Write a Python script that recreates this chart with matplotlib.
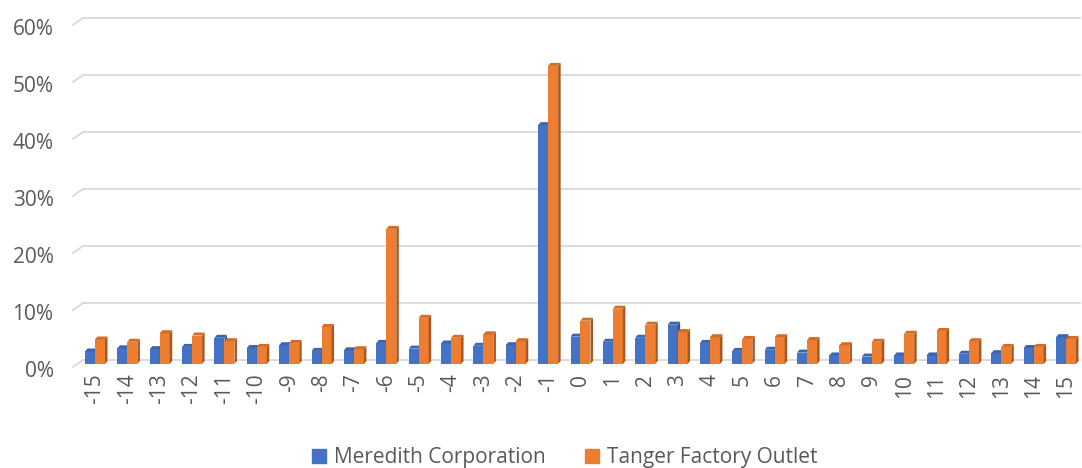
import matplotlib
matplotlib.use("Agg")
import matplotlib.pyplot as plt
from matplotlib.patches import Polygon, Rectangle
from matplotlib.transforms import ScaledTranslation
import numpy as np

categories = list(range(-15, 16))
meredith = [2.2, 2.75, 2.6, 3.0, 4.6, 2.8, 3.3, 2.3, 2.4, 3.7,
            2.7, 3.6, 3.2, 3.3, 41.9, 4.8, 3.9, 4.6, 6.9, 3.7,
            2.3, 2.5, 2.0, 1.5, 1.3, 1.5, 1.5, 1.8, 1.9, 2.8, 4.7]
tanger = [4.3, 3.9, 5.4, 5.0, 4.0, 3.0, 3.7, 6.5, 2.6, 23.7,
          8.1, 4.6, 5.2, 4.0, 52.3, 7.6, 9.7, 6.9, 5.6, 4.7,
          4.4, 4.7, 4.2, 3.3, 3.9, 5.3, 5.8, 4.0, 3.0, 3.0, 4.4]
series_names = ["Meredith Corporation", "Tanger Factory Outlet"]
yticks = [0, 10, 20, 30, 40, 50, 60]

plt.rcParams['font.family'] = ['Open Sans', 'DejaVu Sans']
TXT = '#595959'
FS = 15
W, H = 1082, 468
fig = plt.figure(figsize=(W / 100, H / 100), dpi=100)

ax_l, ax_r = 73, 1080
y0, y60 = 364, 22
ax = fig.add_axes([ax_l / W, (H - y0) / H, (ax_r - ax_l) / W, (y0 - y60) / H])
x = np.arange(len(categories))
spacing = (1066 - 95) / 30.0
xl = 0 - (95 - ax_l) / spacing
xr = 30 + (ax_r - 1066) / spacing
ax.set_xlim(xl, xr)
ax.set_ylim(0, 60)
for s in ax.spines.values():
    s.set_visible(False)

px_x = 1.0 / spacing
px_y = 60.0 / (y0 - y60)

# gridlines (back wall) with perspective slant at left
for v in yticks:
    gy = v + 4 * px_y
    fy = v - 3 * px_y
    ax.plot([xl + 10 * px_x, xr], [gy, gy], color='#d9d9d9', lw=1.3, zorder=0, clip_on=False)
    ax.plot([xl, xl + 10 * px_x], [fy, gy], color='#d9d9d9', lw=1.3, zorder=0, clip_on=False)

bw = 10 * px_x
dx = 2.5 * px_x
dy = 3 * px_y
series = [(meredith, '#4472C4', '#2F5597', '#3A64B0', -1),
          (tanger, '#ED7D31', '#A9561F', '#D46C25', 1)]
z = 2
for i in range(len(categories)):
    for vals, c, cs, ct, sgn in series:
        v = vals[i]
        left = x[i] + (sgn - 1) / 2 * bw
        right = left + bw
        ax.bar(left, v, width=bw, align='edge', color=c, zorder=z, linewidth=0)
        ax.add_patch(Polygon([(right, 0), (right + dx, dy), (right + dx, v + dy), (right, v)],
                             closed=True, color=cs, lw=0, zorder=z))
        ax.add_patch(Polygon([(left, v), (left + dx, v + dy), (right + dx, v + dy), (right, v)],
                             closed=True, color=ct, lw=0, zorder=z))
        z += 1

ax.set_xticks(x)
ax.set_xticklabels([str(c) for c in categories], rotation=90, fontsize=FS, color=TXT)
ax.set_yticks(yticks)
ax.set_yticklabels([f"{v}%" for v in yticks], fontsize=FS, color=TXT)
ax.tick_params(axis='both', length=0)
ax.tick_params(axis='y', pad=14)
ax.tick_params(axis='x', pad=7)
for lbl in ax.get_yticklabels():
    lbl.set_transform(lbl.get_transform() + ScaledTranslation(0, -0.05, fig.dpi_scale_trans))

handles = [Rectangle((0, 0), 1, 1, color='#4472C4'), Rectangle((0, 0), 1, 1, color='#ED7D31')]
fig.legend(handles, series_names, loc='center', bbox_to_anchor=(0.522, (H - 458) / H),
           ncol=2, frameon=False, fontsize=FS, labelcolor=TXT,
           handlelength=0.65, handleheight=0.65, handletextpad=0.4, columnspacing=1.9)

fig.savefig('out.png', dpi=100)
